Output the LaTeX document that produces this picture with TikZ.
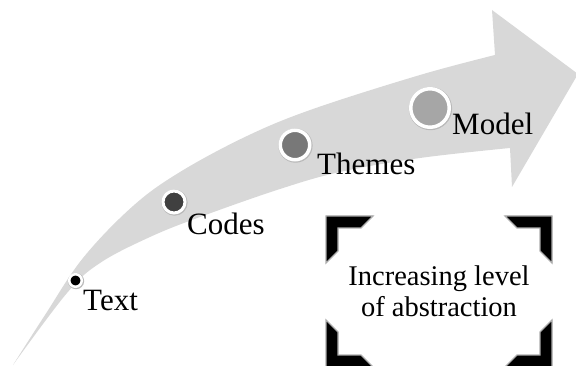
\documentclass[tikz,border=0pt]{standalone}
\usepackage{fontspec}
\setmainfont{Liberation Serif}
\definecolor{arrowgray}{HTML}{D8D8D8}
\definecolor{codesfill}{HTML}{404040}
\definecolor{themesfill}{HTML}{787878}
\definecolor{modelfill}{HTML}{A6A6A6}
\begin{document}
\begin{tikzpicture}[x=1pt,y=-1pt,
  lab/.style={font=\fontsize{31}{36}\selectfont, inner sep=0pt, anchor=base west},
  boxtext/.style={font=\fontsize{28.5}{31}\selectfont, inner sep=0pt, align=center},
  stage/.style={circle, inner sep=0pt, draw=white,
    preaction={draw=gray!55, line width=#1+1.2pt, transform canvas={shift={(0.5pt,-0.6pt)}}},
    line width=#1},
  bracket/.style={fill=black, draw=gray!65, line width=1.2pt, line join=miter}
]
\useasboundingbox (0,0) rectangle (576,366);
% curved arrow
\fill[arrowgray] plot[smooth,tension=0.6] coordinates {(13,365) (45,315) (83,258) (133,206) (180,172) (247,136) (313,109) (420,75) (495,55)}
  -- (492,10) -- (578,74) -- (512,187)
  -- plot[smooth,tension=0.6] coordinates {(510,148) (420,158) (340,172) (280,189) (200,217) (150,237) (100,263) (67,293) (13,365)} -- cycle;
% stage markers
\node[stage=2.5pt, fill=black, minimum size=12.5pt] (ctext) at (75.5,280.5) {};
\node[stage=3pt, fill=codesfill, minimum size=22pt] (ccodes) at (174,202) {};
\node[stage=3.5pt, fill=themesfill, minimum size=29.5pt] (cthemes) at (295,145) {};
\node[stage=3.5pt, fill=modelfill, minimum size=38.5pt] (cmodel) at (430,108) {};
% labels
\node[lab] (ltext) at (83,310) {Text};
\node[lab] (lcodes) at (187,235) {Codes};
\node[lab] (lthemes) at (317,175) {Themes};
\node[lab] (lmodel) at (452,135) {Model};
% corner brackets
\filldraw[bracket] (326,216) -- (373,216) -- (361,228) -- (338,228) -- (338,251) -- (326,263) -- cycle;
\filldraw[bracket] (552,216) -- (505,216) -- (517,228) -- (540,228) -- (540,251) -- (552,263) -- cycle;
\filldraw[bracket] (326,367) -- (373,367) -- (361,355) -- (338,355) -- (338,332) -- (326,320) -- cycle;
\filldraw[bracket] (552,367) -- (505,367) -- (517,355) -- (540,355) -- (540,332) -- (552,320) -- cycle;
\node[boxtext] (abs) at (439,291.5) {Increasing level\\of abstraction};
\end{tikzpicture}
\end{document}
